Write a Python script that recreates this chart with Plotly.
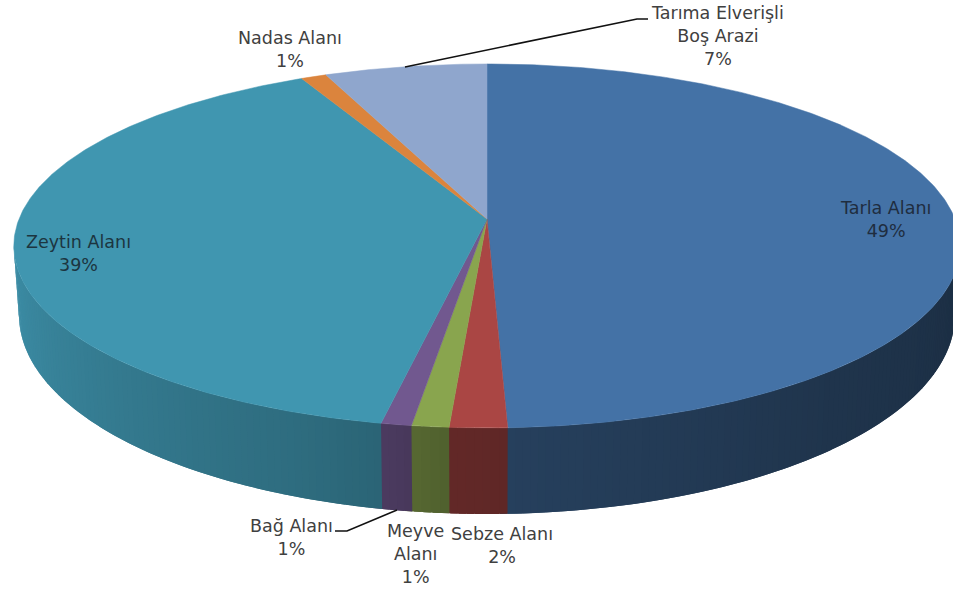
import numpy as np
import plotly.graph_objects as go

# ---- data ----
categories = ["Tarla Alanı", "Sebze Alanı", "Meyve Alanı", "Bağ Alanı",
              "Zeytin Alanı", "Nadas Alanı", "Tarıma Elverişli Boş Arazi"]
values = [49.4, 1.7, 1.1, 0.9, 39.5, 1.0, 6.4]
percent_labels = ["49%", "2%", "1%", "1%", "39%", "1%", "7%"]
label_text = ["Tarla Alanı", "Sebze Alanı", "Meyve<br>Alanı", "Bağ Alanı",
              "Zeytin Alanı", "Nadas Alanı", "Tarıma Elverişli<br>Boş Arazi"]
colors = ["#4472a6", "#aa4644", "#89a54e", "#71588f", "#4096b0", "#db843d", "#8fa6cd"]

# ---- layout / style ----
W, H = 953, 589
CX, CY = 487, 219          # apex of the pie on the top face
K = 0.148                  # perspective foreshortening
A, B = 178, 468
BOT_CY, BOT_RX, BOT_RY = 315, 468, 199
label_pos = [(885, 219), (502, 545), (415, 554), (291, 537), (78, 253), (290, 49), (717, 36)]
label_color = ["#1f2d3f", "#404040", "#404040", "#404040", "#1c3540", "#404040", "#404040"]
leaders = [([335, 347, 397], [531, 531, 510]), ([405, 637, 648], [67, 19, 19])]


def top(theta_deg):
    t = np.radians(theta_deg)
    X, Y = np.sin(t), np.cos(t)
    d = 1 + K * Y
    return CX + B * X / d, CY - A * Y / d


def bottom(x):
    xb = CX + (x - CX) * BOT_RX / 473
    u = np.clip((xb - CX) / BOT_RX, -1, 1)
    return xb, BOT_CY + BOT_RY * np.sqrt(1 - u ** 2)


def shade(hex_color, theta):
    f = np.interp(theta, [98, 140, 178, 184, 190, 200, 262],
                  [0.40, 0.46, 0.56, 0.58, 0.66, 0.72, 0.95])
    r, g, b = (int(hex_color[i:i + 2], 16) for i in (1, 3, 5))
    return f"rgb({r * f:.0f},{g * f:.0f},{b * f:.0f})"


edges = np.concatenate([[0], np.cumsum(values)]) / np.sum(values) * 360
fig = go.Figure()

VIS_A, VIS_B = 98.5, 261.5
for i, c in enumerate(colors):
    a0, a1 = max(edges[i], VIS_A), min(edges[i + 1], VIS_B)
    if a1 <= a0:
        continue
    n = max(1, int((a1 - a0) / 0.8))
    steps = np.linspace(a0, a1, n + 1)
    for j, (s0, s1) in enumerate(zip(steps[:-1], steps[1:])):
        # each strip runs on under the next one so no seam of background shows
        end = min(VIS_B, s1 + 0.8)
        th = np.linspace(s0, end, 5)
        xt, yt = top(th)
        xb, yb = bottom(xt)
        xs = np.concatenate([xt, xb[::-1]])
        ys = np.concatenate([yt, yb[::-1]])
        col = shade(c, (s0 + s1) / 2)
        fig.add_trace(go.Scatter(x=xs, y=ys, mode="lines", fill="toself", fillcolor=col,
                                 line=dict(width=0), hoverinfo="skip", showlegend=False))

for i, c in enumerate(colors):
    th = np.linspace(edges[i], edges[i + 1], max(3, int((edges[i + 1] - edges[i]) * 2)))
    xa, ya = top(th)
    fig.add_trace(go.Scatter(x=np.r_[CX, xa, CX], y=np.r_[CY, ya, CY], mode="lines",
                             fill="toself", fillcolor=c, line=dict(color=c, width=0.5),
                             name=categories[i], hoverinfo="name", showlegend=False))

for lx, ly in leaders:
    fig.add_trace(go.Scatter(x=lx, y=ly, mode="lines", line=dict(color="#111111", width=1.6),
                             hoverinfo="skip", showlegend=False))

for (x, y), t, p, col in zip(label_pos, label_text, percent_labels, label_color):
    fig.add_annotation(x=x, y=y, text=f"{t}<br>{p}", showarrow=False, align="center",
                       xanchor="center", yanchor="middle",
                       font=dict(family="DejaVu Sans", size=17.5, color=col))

fig.update_layout(width=W, height=H, margin=dict(l=0, r=0, t=0, b=0),
                  paper_bgcolor="white", plot_bgcolor="white",
                  xaxis=dict(range=[0, W], visible=False, fixedrange=True),
                  yaxis=dict(range=[H, 0], visible=False, fixedrange=True))
fig.write_html("out.html", config=dict(displayModeBar=False),
               post_script="document.body.style.margin='0';document.documentElement.style.overflow='hidden';")
